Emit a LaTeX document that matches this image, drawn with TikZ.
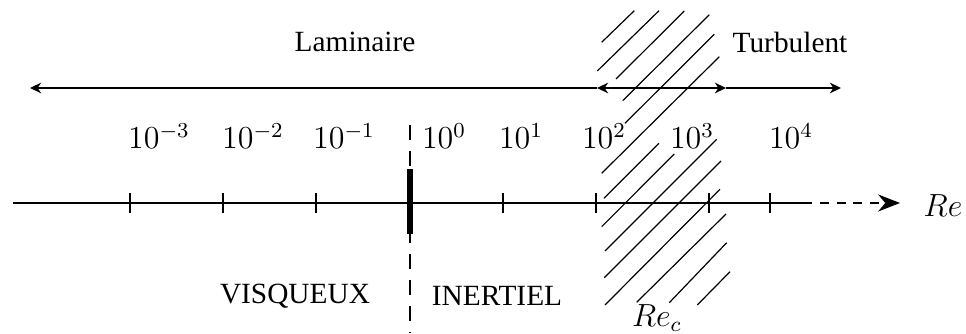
\documentclass[tikz,border=0pt]{standalone}
\usepackage{fix-cm}
\usepackage{fontspec}
\setmainfont{Liberation Serif}
\usetikzlibrary{arrows.meta}
\begin{document}
\begin{tikzpicture}[x=0.375pt,y=-0.375pt,
  axisline/.style={line width=0.86pt},
  tickmark/.style={line width=0.75pt},
  bigtick/.style={line width=1.9pt},
  rangeline/.style={line width=0.55pt},
  hatchline/.style={line width=0.45pt},
  sepline/.style={line width=0.4pt, dash pattern=on 5.6pt off 4.1pt},
  mathlbl/.style={font=\fontsize{12}{14}\selectfont, inner sep=0pt, anchor=base},
  txt/.style={font=\fontsize{11}{13}\selectfont, inner sep=0pt},
  smalltip/.tip={Stealth[length=4.2pt,width=4pt]},
  bigtip/.tip={Stealth[length=8.2pt,width=6.4pt]}]
\useasboundingbox (0,0) rectangle (966,334);

% top range arrows
\coordinate (t1) at (30,88);
\coordinate (t2) at (597,88);
\coordinate (t3) at (726,88);
\coordinate (t4) at (841,88);
\draw[rangeline, -smalltip] (t2) -- (t1);
\draw[rangeline, smalltip-smalltip] (t2) -- (t3);
\draw[rangeline, -smalltip] (t3) -- (t4);

\node[txt] (lam) at (355,42) {Laminaire};
\node[txt] (turb) at (790,42) {Turbulent};

% hatching
\foreach \a/\b/\c/\d in {601.7/42.3/634.3/10.7, 597.3/71/659/10.7, 616/79/684.3/11,
  622.7/100.7/709.3/14.7, 625/123.3/714.3/34.3, 601.7/173.3/719.3/56.7,
  604/198.3/659/143.3, 601.7/226.7/674.3/154, 605/251/716.7/139.3,
  604.3/277.7/721/161, 605/305/720/189.3, 636.7/302.3/726/214,
  669.3/302.7/726.7/242.7, 697.3/305/730/271.7}
  \draw[hatchline] (\a,\b) -- (\c,\d);

% separator
\coordinate (s1) at (410,125);
\coordinate (s2) at (410,333);
\draw[sepline] (s1) -- (s2);

% main axis
\coordinate (a0) at (13,203);
\coordinate (a1) at (803,203);
\coordinate (a2) at (900,203);
\draw[axisline] (a0) -- (a1);
\draw[axisline, dash pattern=on 3.4pt off 2.9pt, -bigtip] (a1) -- (a2);
\node[inner sep=0pt, font=\fontsize{12}{14}\selectfont] (re) at (943,206) {$Re$};

% ticks
\foreach \x/\n in {130/k1,223/k2,316/k3,503/k5,596/k6,709/k7,770/k8}{
  \coordinate (\n a) at (\x,193);
  \coordinate (\n b) at (\x,213);
  \draw[tickmark] (\n a) -- (\n b);
}
\coordinate (k4a) at (410,169);
\coordinate (k4b) at (410,234);
\draw[bigtick] (k4a) -- (k4b);

% tick labels
\node[mathlbl] (l1) at (159,149) {$10^{-3}$};
\node[mathlbl] (l2) at (253,149) {$10^{-2}$};
\node[mathlbl] (l3) at (344,149) {$10^{-1}$};
\node[mathlbl] (l4) at (444,149) {$10^{0}$};
\node[mathlbl] (l5) at (521,149) {$10^{1}$};
\node[mathlbl] (l6) at (604,149) {$10^{2}$};
\node[mathlbl] (l7) at (692,149) {$10^{3}$};
\node[mathlbl] (l8) at (791,149) {$10^{4}$};

% regime labels
\node[txt] (visq) at (295,296) {VISQUEUX};
\node[txt] (inert) at (497,296) {INERTIEL};
\node[inner sep=0pt, font=\fontsize{12}{14}\selectfont] (rec) at (657,318) {$Re_c$};
\end{tikzpicture}
\end{document}
